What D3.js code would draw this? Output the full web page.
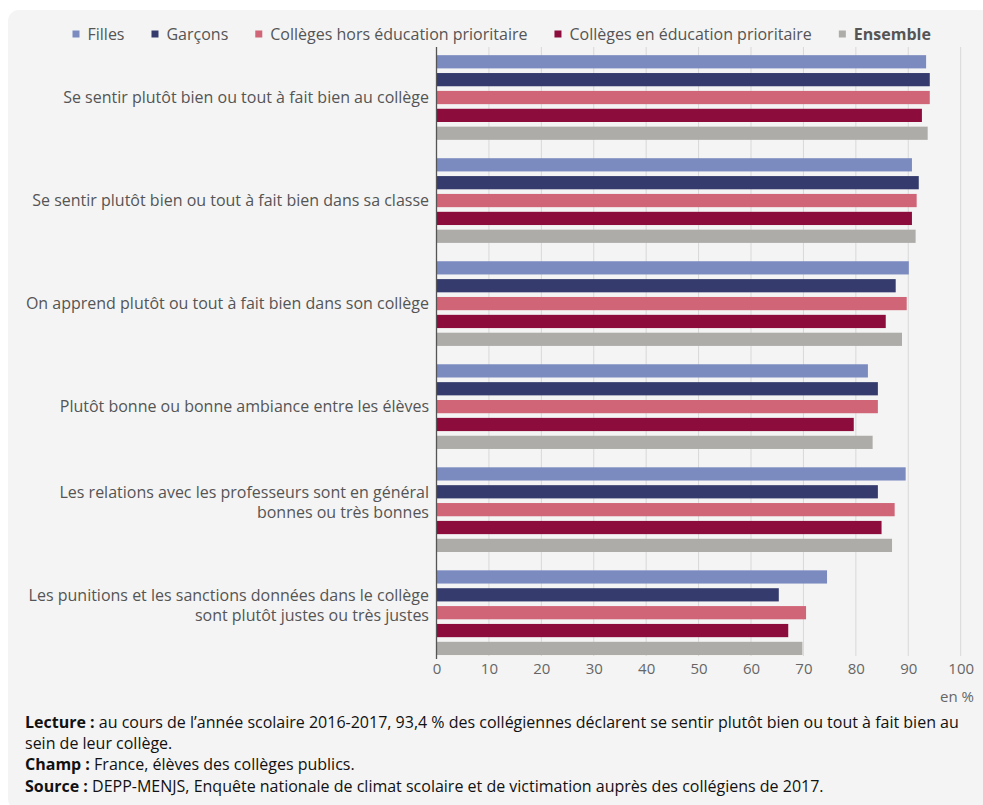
<!DOCTYPE html>
<html><head><meta charset="utf-8">
<script src="https://cdn.jsdelivr.net/npm/d3@7"></script>
<style>
body{margin:0;background:#fff;font-family:"Open Sans",sans-serif;}
</style></head>
<body>
<svg id="c" width="983" height="805"></svg>
<script>
const categories = [
  ["Se sentir plutôt bien ou tout à fait bien au collège"],
  ["Se sentir plutôt bien ou tout à fait bien dans sa classe"],
  ["On apprend plutôt ou tout à fait bien dans son collège"],
  ["Plutôt bonne ou bonne ambiance entre les élèves"],
  ["Les relations avec les professeurs sont en général", "bonnes ou très bonnes"],
  ["Les punitions et les sanctions données dans le collège", "sont plutôt justes ou très justes"]
];
const seriesNames = ["Filles", "Garçons", "Collèges hors éducation prioritaire", "Collèges en éducation prioritaire", "Ensemble"];
const seriesColors = ["#7b8bc0", "#353c6d", "#d06577", "#8c0c3c", "#aeaca8"];
const filles    = [93.4, 90.7, 90.1, 82.3, 89.5, 74.5];
const garcons   = [94.1, 92.0, 87.6, 84.2, 84.2, 65.3];
const horsEP    = [94.1, 91.6, 89.7, 84.2, 87.4, 70.5];
const enEP      = [92.6, 90.7, 85.7, 79.6, 84.9, 67.1];
const ensemble  = [93.7, 91.4, 88.8, 83.2, 86.9, 69.8];
const xTicks = [0,10,20,30,40,50,60,70,80,90,100];
const seriesValues = [filles, garcons, horsEP, enEP, ensemble];

const svg = d3.select("#c");
svg.append("rect").attr("x",8).attr("y",10).attr("width",990).attr("height",800).attr("rx",11).attr("fill","#f4f4f4");

const x = d3.scaleLinear().domain([0,100]).range([436.5, 960.7]);
const y0 = d3.scaleBand().domain(d3.range(categories.length)).range([46, 664.2]).paddingInner(0.178).paddingOuter(0.089);
const y1 = d3.scaleBand().domain(d3.range(seriesNames.length)).range([0, y0.bandwidth()]).paddingInner(0.26);

// gridlines
svg.append("g").selectAll("line").data(xTicks.slice(1)).join("line")
  .attr("x1", d=>x(d)).attr("x2", d=>x(d)).attr("y1",47).attr("y2",656)
  .attr("stroke","#d8d8d8").attr("stroke-width",1);

// bars
const g = svg.append("g");
categories.forEach((c,i)=>{
  seriesValues.forEach((vals,j)=>{
    g.append("rect").attr("x", x(0)).attr("y", y0(i)+y1(j))
      .attr("width", x(vals[i])-x(0)).attr("height", y1.bandwidth())
      .attr("fill", seriesColors[j]);
  });
});

// axis line
svg.append("line").attr("x1",x(0)).attr("x2",x(0)).attr("y1",47).attr("y2",659).attr("stroke","#555").attr("stroke-width",1.3);

// x tick labels
const xa = d3.axisBottom(x).tickValues(xTicks).tickSize(0).tickPadding(0);
const ga = svg.append("g").attr("transform","translate(0,663)").call(xa);
ga.select(".domain").remove();
ga.selectAll("text").attr("font-family","Open Sans").attr("font-size",15).attr("fill","#666").attr("dy","0.71em");
svg.append("text").attr("x",974).attr("y",697).attr("dy","0.35em").attr("text-anchor","end").attr("font-size",15).attr("fill","#666").text("en %");

// category labels
categories.forEach((lines,i)=>{
  const cy = y0(i)+y0.bandwidth()/2;
  const t = svg.append("text").attr("text-anchor","end").attr("font-size",16).attr("fill","#555");
  if(lines.length===1){
    t.append("tspan").attr("x",429).attr("y",cy).attr("dy","0.35em").text(lines[0]);
  } else {
    lines.forEach((l,k)=>{
      t.append("tspan").attr("x",429).attr("y",cy-17+k*20).attr("dy","0.35em").text(l);
    });
  }
});

// legend
const legend = svg.append("g").attr("font-size",16).attr("fill","#555");
let lx = 72.5;
seriesNames.forEach((n,j)=>{
  const it = legend.append("g").attr("transform",`translate(${lx},0)`);
  it.append("rect").attr("x",0).attr("y",30.5).attr("width",7).attr("height",7).attr("fill",seriesColors[j]);
  const tt = it.append("text").attr("x",15).attr("y",34).attr("dy","0.35em").text(n);
  if(j===4) tt.attr("font-weight","bold");
  lx += 15 + tt.node().getComputedTextLength() + 27;
});

// footnotes
const notes = [
  [["Lecture : ", true],["au cours de l’année scolaire 2016-2017, 93,4 % des collégiennes déclarent se sentir plutôt bien ou tout à fait bien au", false]],
  [["sein de leur collège.", false]],
  [["Champ : ", true],["France, élèves des collèges publics.", false]],
  [["Source : ", true],["DEPP-MENJS, Enquête nationale de climat scolaire et de victimation auprès des collégiens de 2017.", false]]
];
notes.forEach((parts,k)=>{
  const t = svg.append("text").attr("x",25).attr("y",722+k*21.3).attr("dy","0.35em").attr("font-size",16).attr("fill","#111");
  parts.forEach(p=>{ t.append("tspan").attr("font-weight", p[1]?"bold":"normal").text(p[0]); });
});
</script>
</body></html>
